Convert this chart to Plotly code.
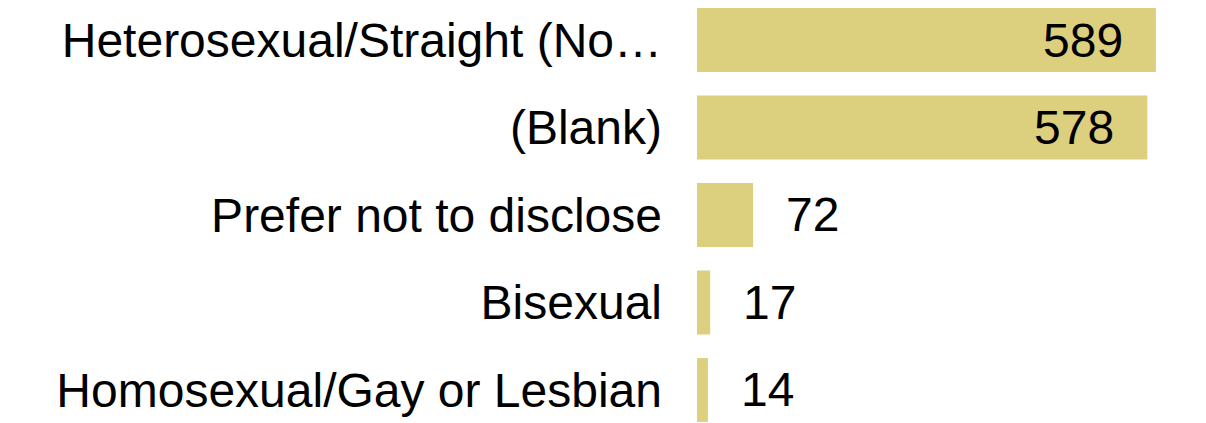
import plotly.graph_objects as go

categories = ["Heterosexual/Straight (No…", "(Blank)", "Prefer not to disclose", "Bisexual", "Homosexual/Gay or Lesbian"]
values = [589, 578, 72, 17, 14]

BAR_COLOR = "#DCCF7D"
FONT = "Liberation Sans, Arial, sans-serif"
FS = 48

fig = go.Figure(go.Bar(
    x=values, y=categories, orientation="h",
    marker=dict(color=BAR_COLOR, line=dict(width=0)),
    width=0.73, hoverinfo="skip",
))

vmax = max(values)
for c, v in zip(categories, values):
    inside = v > 0.5 * vmax
    fig.add_annotation(
        x=v, y=c, text=str(v), showarrow=False,
        xanchor="right" if inside else "left",
        xshift=-31 if inside else 31,
        font=dict(family=FONT, size=FS, color="#000000"),
    )

fig.update_layout(
    width=1206, height=423,
    margin=dict(l=689, r=0, t=0, b=0),
    plot_bgcolor="white", paper_bgcolor="white",
    showlegend=False,
    font=dict(family=FONT, size=FS, color="#000000"),
    xaxis=dict(range=[0, 663.6], visible=False, showgrid=False, zeroline=False),
    yaxis=dict(
        type="category", categoryorder="array", categoryarray=categories,
        range=[4.469, -0.366], showgrid=False, zeroline=False, showline=False,
        ticks="", ticklabelstandoff=34,
        tickfont=dict(family=FONT, size=FS, color="#000000"),
    ),
)

fig.write_html("out.html")
